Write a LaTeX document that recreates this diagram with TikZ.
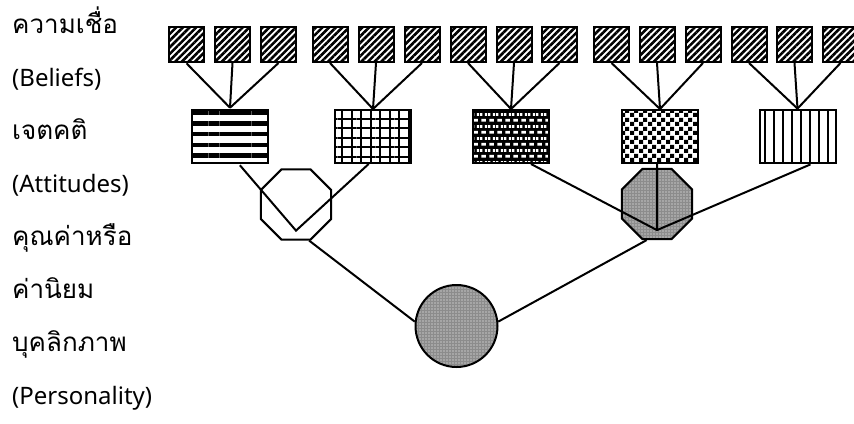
\documentclass[tikz,border=0pt]{standalone}
\usepackage{fontspec}
\setmainfont{Noto Sans}
\newfontfamily\thai[Script=Thai]{Loma}
\usetikzlibrary{shapes.geometric}
\usetikzlibrary{patterns,patterns.meta}

% fill patterns of the boxes
\tikzdeclarepattern{name=checker, type=uncolored,
  bounding box={(0pt,0pt) and (9pt,9pt)}, tile size={(9pt,9pt)},
  code={\fill (0pt,0pt) rectangle (4.5pt,4.5pt); \fill (4.5pt,4.5pt) rectangle (9pt,9pt);}}
\tikzdeclarepattern{name=brickdash, type=uncolored,
  bounding box={(0pt,0pt) and (8pt,12pt)}, tile size={(8pt,12pt)},
  code={\fill (1.5pt,1.5pt) rectangle (6.5pt,4.5pt); \fill (5.5pt,7.5pt) rectangle (8pt,10.5pt); \fill (0pt,7.5pt) rectangle (2.5pt,10.5pt);}}

\tikzset{
  leftlab/.style={anchor=west, inner sep=0pt, text height=17pt, text depth=6pt, font=\fontsize{24pt}{28pt}\selectfont},
  thailab/.style={leftlab, font=\fontsize{26pt}{30pt}\selectfont\thai},
  belief/.style={draw, line width=2pt, minimum size=35pt, inner sep=0pt,
    pattern={Lines[angle=45,distance=4.7pt,line width=2.6pt]}},
  attitude/.style={draw, line width=2pt, minimum width=76pt, minimum height=53pt, inner sep=0pt},
  valuebox/.style={draw, line width=2pt, regular polygon, regular polygon sides=8, minimum size=76pt, inner sep=0pt},
  greydots/.style={preaction={fill=gray!90}, pattern={Dots[distance=3pt,radius=0.6pt]}, pattern color=white},
  link/.style={line width=2pt}
}

\begin{document}
\begin{tikzpicture}[x=1pt,y=-1pt]
  \useasboundingbox (0,0) rectangle (854,423);
  % labels on the left
  \node[thailab] (lab0) at (12,28) {ความเชื่อ};
  \node[leftlab] (lab1) at (12,81) {(Beliefs)};
  \node[thailab] (lab2) at (12,134) {เจตคติ};
  \node[leftlab] (lab3) at (12,187) {(Attitudes)};
  \node[thailab] (lab4) at (12,240) {คุณค่าหรือ};
  \node[thailab] (lab5) at (12,293) {ค่านิยม};
  \node[thailab] (lab6) at (12,346) {บุคลิกภาพ};
  \node[leftlab] (lab7) at (12,399) {(Personality)};
  % beliefs
  \foreach \x [count=\i] in {186.5,232.5,278.5,330,376,422,468,514,559.5,611.5,657,703,749,794.5,840.5}
    \node[belief] (b\i) at (\x,44.5) {};
  % attitudes
  \node[attitude, pattern={Lines[angle=0,distance=10.7pt,line width=4.5pt]}] (a1) at (230,136.5) {};
  \node[attitude, pattern={Hatch[angle=0,distance=9.5pt,line width=2pt]}] (a2) at (373,136.5) {};
  \node[attitude, preaction={fill=black}, pattern=brickdash, pattern color=white] (a3) at (511,136.5) {};
  \node[attitude, pattern=checker] (a4) at (660,136.5) {};
  \node[attitude, pattern={Lines[angle=90,distance=9pt,line width=2.8pt]}] (a5) at (797.5,136.5) {};
  % values
  \node[valuebox, fill=white] (v1) at (296,204.5) {};
  \node[valuebox, greydots] (v2) at (657,204) {};
  \coordinate (v1m) at ([yshift=10pt]v1.south);
  \coordinate (v2m) at ([yshift=10pt]v2.south);
  % personality
  \node[draw, circle, line width=2pt, minimum size=82pt, inner sep=0pt, greydots] (pers) at (456.5,326) {};
  % links
  \foreach \i in {1,...,15}{
    \pgfmathtruncatemacro\g{int((\i-1)/3)+1}
    \draw[link] (b\i.south) -- (a\g.north);
  }
  \draw[link] (a1.-71) -- (v1m) -- (a2.-99);
  \draw[link] (a3.-54) -- (v2m) -- (a5.-65);
  \draw[link] (a4.-96) -- (v2m);
  \draw[link] (v1.-70) -- (pers.174);
  \draw[link] (v2.-106) -- (pers.6);
\end{tikzpicture}
\end{document}
